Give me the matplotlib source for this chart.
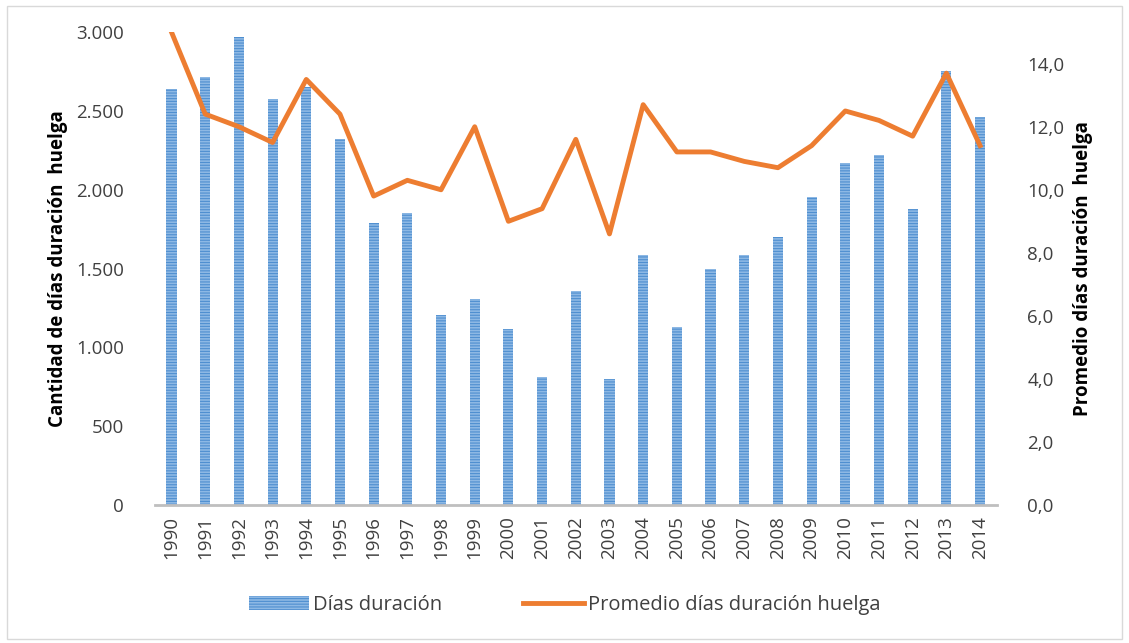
import matplotlib
matplotlib.use('Agg')
import matplotlib.pyplot as plt
from matplotlib.patches import Rectangle

years = [str(y) for y in range(1990, 2015)]
dias_duracion = [2638, 2714, 2968, 2575, 2651, 2321, 1788, 1852, 1205, 1306,
                 1116, 812, 1357, 799, 1585, 1129, 1497, 1585, 1700, 1953,
                 2169, 2220, 1877, 2752, 2461]
promedio = [15.0, 12.4, 12.0, 11.5, 13.5, 12.4, 9.8, 10.3, 10.0, 12.0,
            9.0, 9.4, 11.6, 8.6, 12.7, 11.2, 11.2, 10.9, 10.7, 11.4,
            12.5, 12.2, 11.7, 13.7, 11.4]

plt.rcParams['font.family'] = ['Open Sans', 'DejaVu Sans']
plt.rcParams['hatch.linewidth'] = 0.8

fig = plt.figure(figsize=(11.29, 6.43), dpi=100)
fig.patches.append(Rectangle((0.006, 0.006), 0.988, 0.985, transform=fig.transFigure,
                             fill=False, edgecolor='#d9d9d9', linewidth=1))
ax = fig.add_axes([0.137, 0.2146, 0.746, 0.7354])
x = list(range(len(years)))
bars = ax.bar(x, dias_duracion, width=0.3, color='#8db8e4', edgecolor='#4f8fd0',
              hatch='------', linewidth=0, label='Días duración')
ax.set_xlim(-0.5, 24.5)
ax.set_ylim(0, 3000)
ax.set_yticks(range(0, 3001, 500))
ax.set_yticklabels(['0', '500', '1.000', '1.500', '2.000', '2.500', '3.000'])
ax.set_xticks(x)
ax.set_xticklabels(years, rotation=90)
for s in ['top', 'right', 'left']:
    ax.spines[s].set_visible(False)
ax.spines['bottom'].set_color('#bfbfbf')
ax.spines['bottom'].set_linewidth(2)
ax.tick_params(length=0, labelsize=13.5, colors='#404040')
ax.tick_params(axis='y', pad=22)
ax.tick_params(axis='x', pad=8)
ax.set_ylabel('Cantidad de días duración  huelga', fontsize=13.5, fontweight='bold',
              labelpad=6)

ax2 = ax.twinx()
line, = ax2.plot(x, promedio, color='#ed7d31', linewidth=3.5,
                 label='Promedio días duración huelga')
ax2.set_ylim(0, 15)
ax2.set_yticks(range(0, 15, 2))
ax2.set_yticklabels([f'{v},0' for v in range(0, 15, 2)])
for s in ['top', 'right', 'left', 'bottom']:
    ax2.spines[s].set_visible(False)
ax2.tick_params(length=0, labelsize=13.5, colors='#404040', pad=22)
ax2.set_ylabel('Promedio días duración  huelga', fontsize=13.5, fontweight='bold',
               labelpad=6)

fig.legend([bars, line], ['Días duración', 'Promedio días duración huelga'],
           loc='center', bbox_to_anchor=(0.5, 0.059), ncol=2, frameon=False,
           fontsize=14.5, handlelength=3.0, columnspacing=4, handletextpad=0.2,
           labelcolor='#404040')

fig.savefig('out.png', dpi=100)
